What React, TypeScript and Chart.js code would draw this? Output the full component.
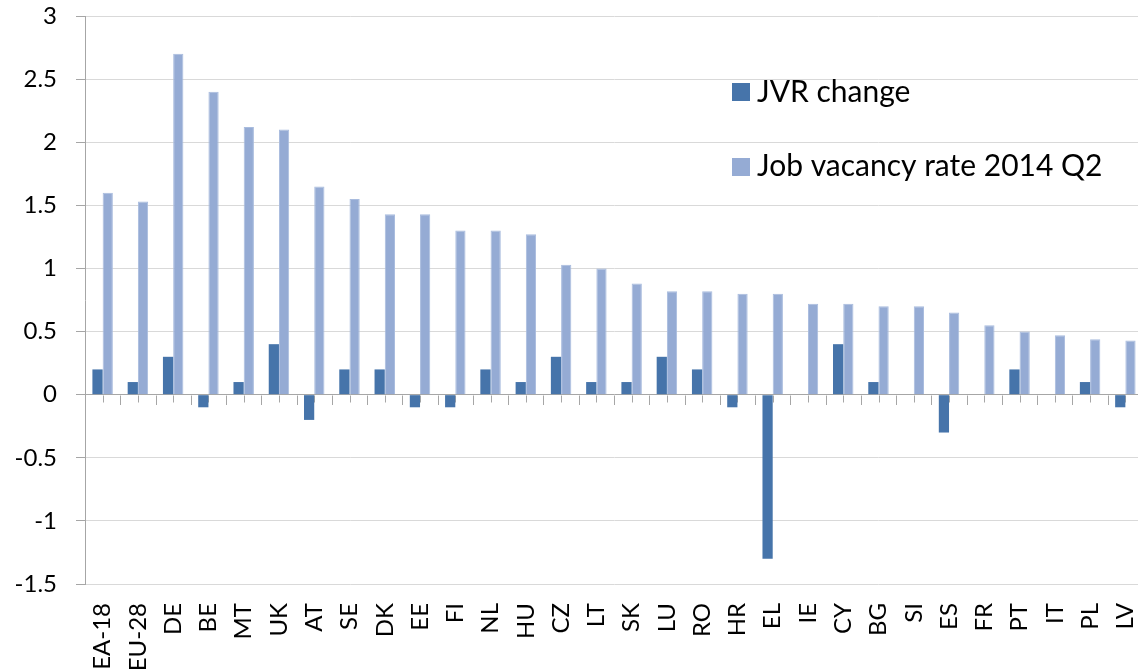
import React, { useEffect, useRef } from "react";
import { Chart, registerables } from "chart.js";

Chart.register(...registerables);

const countries = [
  "EA-18", "EU-28", "DE", "BE", "MT", "UK", "AT", "SE", "DK", "EE",
  "FI", "NL", "HU", "CZ", "LT", "SK", "LU", "RO", "HR", "EL",
  "IE", "CY", "BG", "SI", "ES", "FR", "PT", "IT", "PL", "LV",
];

const jvrChange = [
  0.2, 0.1, 0.3, -0.1, 0.1, 0.4, -0.2, 0.2, 0.2, -0.1,
  -0.1, 0.2, 0.1, 0.3, 0.1, 0.1, 0.3, 0.2, -0.1, -1.3,
  0, 0.4, 0.1, 0, -0.3, 0, 0.2, 0, 0.1, -0.1,
];

const vacancyRate2014Q2 = [
  1.6, 1.53, 2.7, 2.4, 2.12, 2.1, 1.65, 1.55, 1.43, 1.43,
  1.3, 1.3, 1.27, 1.03, 1.0, 0.88, 0.82, 0.82, 0.8, 0.8,
  0.72, 0.72, 0.7, 0.7, 0.65, 0.55, 0.5, 0.47, 0.44, 0.43,
];

const seriesNames = ["JVR change", "Job vacancy rate 2014 Q2"];
const seriesColors = ["#4674AA", "#95ABD4"];

const yMin = -1.5;
const yMax = 3;
const yStep = 0.5;

const FONT = "Lato, 'Open Sans', sans-serif";
const AXIS_GRAY = "#A6A6A6";
const GRID_GRAY = "#D9D9D9";

// Tick marks hanging from the zero line: short ones at category centres,
// longer ones at category boundaries.
const zeroLineTicks = {
  id: "zeroLineTicks",
  beforeDatasetsDraw(chart: any) {
    const { ctx, scales } = chart;
    const x = scales.x;
    const y0 = Math.round(scales.y.getPixelForValue(0)) + 0.5;
    const n = countries.length;
    const step = x.width / n;
    ctx.save();
    ctx.strokeStyle = AXIS_GRAY;
    ctx.lineWidth = 1;
    ctx.beginPath();
    for (let i = 0; i < n; i++) {
      const c = Math.round(x.getPixelForValue(i)) + 0.5;
      ctx.moveTo(c, y0);
      ctx.lineTo(c, y0 + 7);
      const b = Math.round(x.getPixelForValue(i) + step / 2) + 0.5;
      ctx.moveTo(b, y0);
      ctx.lineTo(b, y0 + 9.5);
    }
    ctx.stroke();
    ctx.restore();
  },
};

// Two-row legend placed inside the plot, upper right.
const insideLegend = {
  id: "insideLegend",
  afterDraw(chart: any) {
    const { ctx } = chart;
    const rows = [
      { top: 83, baseline: 101.5 },
      { top: 158, baseline: 176 },
    ];
    ctx.save();
    ctx.font = `30px ${FONT}`;
    ctx.textAlign = "left";
    ctx.textBaseline = "alphabetic";
    rows.forEach((r, i) => {
      ctx.fillStyle = seriesColors[i];
      ctx.fillRect(732, r.top, 18, 18);
      ctx.fillStyle = "#000";
      ctx.fillText(seriesNames[i], 757, r.baseline);
    });
    ctx.restore();
  },
};

export default function App() {
  const canvasRef = useRef<HTMLCanvasElement | null>(null);

  useEffect(() => {
    document.body.style.margin = "0";
    const canvas = canvasRef.current;
    if (!canvas) return;
    const chart = new Chart(canvas, {
      type: "bar",
      data: {
        labels: countries,
        datasets: [
          {
            label: seriesNames[0],
            data: jvrChange,
            backgroundColor: seriesColors[0],
            borderWidth: 0,
            categoryPercentage: 0.58,
            barPercentage: 1,
          },
          {
            label: seriesNames[1],
            data: vacancyRate2014Q2,
            backgroundColor: seriesColors[1],
            borderColor: "#A9BCDE",
            borderWidth: 1,
            categoryPercentage: 0.58,
            barPercentage: 1,
          },
        ],
      },
      options: {
        responsive: false,
        animation: false,
        devicePixelRatio: 1,
        layout: { padding: { top: 16, right: 0, bottom: 0, left: 0 } },
        plugins: {
          legend: { display: false },
          tooltip: { enabled: false },
        },
        scales: {
          x: {
            grid: { display: false, drawTicks: false },
            border: { display: false },
            ticks: {
              autoSkip: false,
              minRotation: 90,
              maxRotation: 90,
              padding: 19,
              color: "#000",
              font: { family: FONT, size: 24 },
            },
            afterFit(scale: any) {
              scale.height = 88;
              scale.paddingLeft = 0;
              scale.paddingRight = 0;
            },
          },
          y: {
            min: yMin,
            max: yMax,
            ticks: {
              stepSize: yStep,
              padding: 19,
              color: "#000",
              font: { family: FONT, size: 24 },
              callback: (v: any) => String(v),
            },
            grid: {
              color: (c: any) => (c.tick && c.tick.value === 0 ? AXIS_GRAY : GRID_GRAY),
              lineWidth: 1,
              drawTicks: true,
              tickLength: 9,
              tickColor: AXIS_GRAY,
            },
            border: { display: true, color: AXIS_GRAY, width: 1 },
            afterFit(scale: any) {
              scale.width = 85;
              scale.paddingTop = 0;
              scale.paddingBottom = 0;
            },
          },
        },
      },
      plugins: [zeroLineTicks, insideLegend],
    });
    return () => chart.destroy();
  }, []);

  return (
    <div
      style={{
        position: "fixed",
        left: 0,
        top: 0,
        width: 1138,
        height: 672,
        overflow: "hidden",
        background: "#fff",
      }}
    >
      <canvas ref={canvasRef} width={1143} height={672} />
    </div>
  );
}
